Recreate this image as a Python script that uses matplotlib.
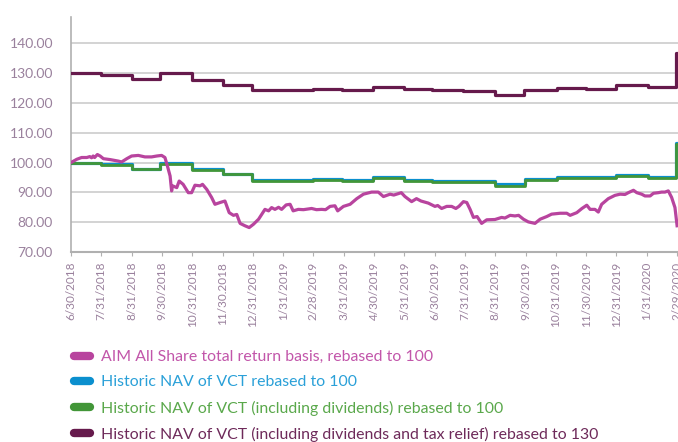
import matplotlib
matplotlib.use("Agg")
import matplotlib.pyplot as plt
from matplotlib.lines import Line2D

plt.rcParams['font.family'] = ['Lato', 'DejaVu Sans']

# month-end tick labels (one per month)
month_labels = ["6/30/2018", "7/31/2018", "8/31/2018", "9/30/2018", "10/31/2018",
                "11/30.2018", "12/31/2018", "1/31/2019", "2/28/2019", "3/31/2019",
                "4/30/2019", "5/31/2019", "6/30/2019", "7/31/2019", "8/31/2019",
                "9/30/2019", "10/31/2019", "11/30/2019", "12/31/2019", "1/31/2020",
                "2/29/2020"]

# AIM All Share (position in months since 6/30/2018, value)
aim_m = [0.00, 0.19, 0.35, 0.52, 0.62, 0.68, 0.73, 0.78, 0.87, 0.96,
         1.07, 1.29, 1.56, 1.67, 1.84, 2.00, 2.22, 2.44, 2.66, 2.83,
         2.99, 3.10, 3.18, 3.27, 3.32, 3.35, 3.49, 3.57, 3.70, 3.87,
         3.98, 4.09, 4.26, 4.34, 4.48, 4.64, 4.75, 4.92, 5.08, 5.22,
         5.36, 5.47, 5.58, 5.74, 5.88, 6.02, 6.19, 6.40, 6.52, 6.62,
         6.73, 6.85, 6.95, 7.10, 7.23, 7.33, 7.50, 7.67, 7.94, 8.10,
         8.27, 8.40, 8.55, 8.71, 8.80, 8.99, 9.21, 9.43, 9.65, 9.92,
         10.14, 10.31, 10.53, 10.65, 10.80, 10.90, 11.02, 11.24, 11.40, 11.55,
         11.79, 12.01, 12.10, 12.23, 12.40, 12.56, 12.70, 12.80, 12.95, 13.06,
         13.17, 13.28, 13.40, 13.55, 13.72, 13.99, 14.21, 14.32, 14.49, 14.65,
         14.77, 14.93, 15.09, 15.31, 15.48, 15.70, 15.86, 16.14, 16.36, 16.47,
         16.69, 16.86, 17.02, 17.13, 17.29, 17.40, 17.51, 17.73, 17.95, 18.12,
         18.28, 18.39, 18.56, 18.67, 18.83, 18.94, 19.11, 19.22, 19.38, 19.49,
         19.60, 19.71, 19.82, 19.93, 20.00]
aim_v = [100.0, 101.1, 101.7, 101.7, 102.0, 101.6, 102.2, 101.7, 102.7, 102.2,
         101.3, 101.0, 100.5, 100.2, 101.3, 102.2, 102.4, 101.9, 101.9, 102.2,
         102.4, 101.7, 98.9, 95.5, 90.5, 92.2, 91.6, 93.8, 92.7, 89.9,
         89.9, 92.4, 92.2, 92.7, 91.0, 88.3, 86.0, 86.6, 87.1, 83.2,
         82.3, 82.6, 79.6, 78.8, 78.2, 79.3, 81.0, 84.3, 83.8, 84.9,
         84.3, 85.0, 84.3, 85.8, 86.0, 83.8, 84.3, 84.2, 84.6, 84.2,
         84.3, 84.2, 85.3, 85.5, 83.8, 85.3, 86.0, 87.9, 89.4, 90.1,
         90.1, 88.6, 89.4, 89.1, 89.6, 89.9, 88.6, 86.9, 87.9, 87.1,
         86.4, 85.3, 85.6, 84.6, 85.3, 85.3, 84.6, 85.3, 86.9, 86.6,
         84.3, 81.6, 81.9, 79.6, 80.8, 80.9, 81.6, 81.4, 82.3, 82.1,
         82.3, 81.0, 80.1, 79.6, 81.0, 81.9, 82.7, 83.0, 83.0, 82.3,
         83.2, 84.6, 85.7, 84.3, 84.3, 83.4, 86.0, 87.9, 89.0, 89.4,
         89.3, 89.9, 90.7, 89.9, 89.4, 88.8, 88.8, 89.7, 89.9, 90.1,
         90.1, 90.5, 88.3, 84.9, 78.8]

# NAV step series: month where each level starts
nav_m = [0, 1.0, 2.0, 2.95, 3.98, 5.0, 5.97, 8.0, 8.95, 9.97,
         10.98, 11.9, 14.0, 14.97, 16.03, 18.0, 19.03, 19.95, 20.0]
nav_v = [100.0, 99.4, 98.0, 99.8, 97.8, 96.3, 94.2, 94.6, 94.1, 95.2,
         94.2, 93.8, 92.7, 94.4, 95.0, 95.9, 95.0, 106.7, 106.7]
nav_div_v = [99.8, 99.1, 97.7, 99.5, 97.5, 96.0, 93.9, 94.3, 93.8, 94.9,
             93.9, 93.5, 92.3, 94.1, 94.7, 95.6, 94.7, 106.3, 106.3]

tax_m = [0, 1.0, 2.0, 2.95, 3.98, 5.0, 5.97, 8.0, 8.95, 9.97, 10.98,
         11.9, 12.95, 14.0, 14.95, 16.03, 17.0, 18.0, 19.03, 19.95, 20.0]
tax_v = [130.0, 129.4, 128.0, 130.0, 127.8, 126.1, 124.4, 124.8, 124.3, 125.5, 124.6,
         124.3, 124.0, 122.8, 124.4, 125.0, 124.8, 125.9, 125.2, 136.8, 136.8]

labels = ["AIM All Share total return basis, rebased to 100",
          "Historic NAV of VCT rebased to 100",
          "Historic NAV of VCT (including dividends) rebased to 100",
          "Historic NAV of VCT (including dividends and tax relief) rebased to 130"]
line_colors = ["#b8449e", "#0b8fce", "#429638", "#661a4c"]
text_colors = ["#c256aa", "#2aa0d8", "#5aa84b", "#6e2a5a"]
tick_color = "#9a819d"

fig = plt.figure(figsize=(6.78, 4.42), dpi=100)
ax = fig.add_axes([71 / 678, 190 / 442, 607 / 678, 235.5 / 442])

ax.step(tax_m, tax_v, where='post', color=line_colors[3], lw=2.3, zorder=3)
ax.step(nav_m, nav_v, where='post', color=line_colors[1], lw=2.3, zorder=3)
ax.step(nav_m, nav_div_v, where='post', color=line_colors[2], lw=2.0, zorder=4)
ax.plot(aim_m, aim_v, color=line_colors[0], lw=2.3, zorder=5)

ax.set_xlim(0, 20.03)
ax.set_ylim(70, 149)
ax.set_yticks(range(70, 141, 10))
ax.set_yticklabels([f"{v:.2f}" for v in range(70, 141, 10)])
ax.set_xticks(range(len(month_labels)))
ax.set_xticklabels(month_labels, rotation=90)

ax.grid(axis='y', color='#cccccc', lw=1.2)
ax.set_axisbelow(True)
for s in ['top', 'right']:
    ax.spines[s].set_visible(False)
ax.spines['left'].set_color('#b0b0b0')
ax.spines['bottom'].set_color('#b0b0b0')
ax.spines['left'].set_linewidth(1.2)
ax.spines['bottom'].set_linewidth(1.5)

ax.tick_params(axis='y', length=0, pad=13, labelsize=10, labelcolor=tick_color)
ax.tick_params(axis='x', length=3, color='#b0b0b0', pad=4, labelsize=8.5,
               labelcolor=tick_color)

handles = [Line2D([0], [0], color=c, lw=6, solid_capstyle='round') for c in line_colors]
leg = fig.legend(handles, labels, loc='upper left', bbox_to_anchor=(60 / 678, 1 - 336 / 442),
                 frameon=False, handlelength=1.0, handletextpad=0.7, labelspacing=0.70,
                 fontsize=11.4)
for t, c in zip(leg.get_texts(), text_colors):
    t.set_color(c)

fig.savefig("out.png", dpi=100)
